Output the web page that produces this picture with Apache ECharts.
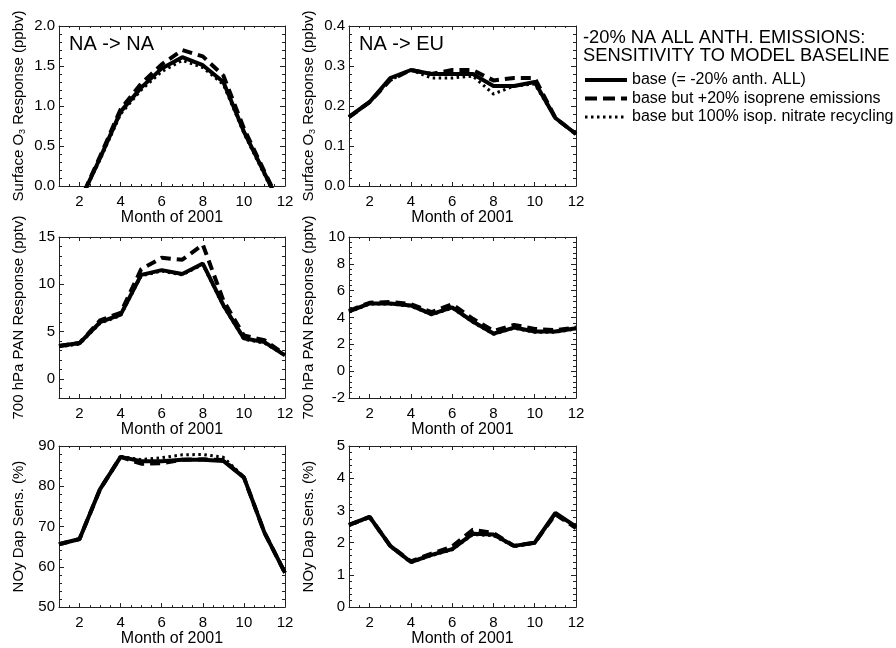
<!DOCTYPE html>
<html>
<head>
<meta charset="utf-8">
<script src="https://cdn.jsdelivr.net/npm/echarts@6/dist/echarts.min.js"></script>
<style>
html,body{margin:0;padding:0;background:#fff;}
#chart{width:896px;height:648px;}
</style>
</head>
<body>
<div id="chart"></div>
<script>
// ---- Data ----
var months = [1, 2, 3, 4, 5, 6, 7, 8, 9, 10, 11, 12];
var seriesNames = ['base (= -20% anth. ALL)', 'base but +20% isoprene emissions', 'base but 100% isop. nitrate recycling'];
var panelTitles = ['NA -> NA', 'NA -> EU'];
var xAxisName = 'Month of 2001';
var yAxisNames = ['Surface O{s|3} Response (ppbv)', '700 hPa PAN Response (pptv)', 'NOy Dap Sens. (%)'];
var legendTitle = '-20% NA ALL ANTH. EMISSIONS:\nSENSITIVITY TO MODEL BASELINE';

// Surface O3 response, NA -> NA (ppbv)
var o3NA_base = [-0.80, -0.20, 0.35, 0.93, 1.23, 1.47, 1.61, 1.51, 1.30, 0.68, 0.16, -0.36];
var o3NA_iso  = [-0.80, -0.20, 0.37, 0.96, 1.28, 1.52, 1.70, 1.62, 1.38, 0.72, 0.18, -0.35];
var o3NA_rec  = [-0.80, -0.20, 0.33, 0.90, 1.20, 1.43, 1.57, 1.48, 1.27, 0.66, 0.14, -0.37];
// Surface O3 response, NA -> EU (ppbv)
var o3EU_base = [0.173, 0.21, 0.27, 0.29, 0.28, 0.28, 0.28, 0.25, 0.25, 0.26, 0.17, 0.13];
var o3EU_iso  = [0.172, 0.21, 0.265, 0.29, 0.28, 0.29, 0.29, 0.264, 0.27, 0.27, 0.17, 0.13];
var o3EU_rec  = [0.172, 0.21, 0.265, 0.29, 0.27, 0.27, 0.275, 0.23, 0.25, 0.255, 0.17, 0.13];
// 700 hPa PAN response, NA (pptv)
var panNA_base = [3.5, 3.8, 6.0, 6.8, 11.0, 11.5, 11.1, 12.2, 7.8, 4.3, 3.9, 2.5];
var panNA_iso  = [3.5, 3.8, 6.2, 7.0, 11.6, 12.8, 12.6, 14.2, 8.3, 4.6, 4.1, 2.6];
var panNA_rec  = [3.4, 3.7, 5.9, 6.7, 10.9, 11.4, 11.0, 12.1, 7.7, 4.2, 3.8, 2.5];
// 700 hPa PAN response, EU (pptv)
var panEU_base = [4.45, 5.05, 5.05, 4.9, 4.25, 4.75, 3.7, 2.8, 3.25, 2.95, 2.95, 3.2];
var panEU_iso  = [4.5, 5.1, 5.15, 5.0, 4.4, 5.0, 3.9, 3.0, 3.45, 3.15, 3.05, 3.25];
var panEU_rec  = [4.4, 5.0, 5.0, 4.85, 4.2, 4.7, 3.65, 2.75, 3.2, 2.9, 2.9, 3.15];
// NOy deposition sensitivity, NA (%)
var noyNA_base = [65.6, 66.9, 79.3, 87.3, 86.2, 86.2, 86.6, 86.6, 86.3, 82.2, 68.5, 58.5];
var noyNA_iso  = [65.6, 66.9, 79.3, 87.3, 85.6, 85.7, 86.6, 86.7, 86.5, 82.2, 68.5, 58.5];
var noyNA_rec  = [65.6, 66.9, 79.3, 87.4, 86.6, 87.1, 87.8, 87.9, 87.2, 82.3, 68.6, 58.6];
// NOy deposition sensitivity, EU (%)
var noyEU_base = [2.55, 2.8, 1.9, 1.4, 1.62, 1.8, 2.28, 2.25, 1.9, 2.0, 2.92, 2.5];
var noyEU_iso  = [2.55, 2.8, 1.9, 1.42, 1.66, 1.88, 2.4, 2.3, 1.9, 2.0, 2.88, 2.45];
var noyEU_rec  = [2.53, 2.78, 1.88, 1.38, 1.6, 1.78, 2.25, 2.22, 1.88, 1.98, 2.9, 2.48];

// y-axis ranges per panel: [min, max, interval or null, splitNumber]
var yRanges = [
  [0, 2, 0.5, null],
  [0, 0.4, 0.1, null],
  [-2, 15, null, 3],
  [-2, 10, 2, null],
  [50, 90, 10, null],
  [0, 5, 1, null]
];
var panelData = [
  [o3NA_base, o3NA_iso, o3NA_rec],
  [o3EU_base, o3EU_iso, o3EU_rec],
  [panNA_base, panNA_iso, panNA_rec],
  [panEU_base, panEU_iso, panEU_rec],
  [noyNA_base, noyNA_iso, noyNA_rec],
  [noyEU_base, noyEU_iso, noyEU_rec]
];

// ---- Layout / style ----
var FONT = 'Liberation Sans, Arial, Helvetica, sans-serif';
var gridBoxes = [
  {left: 59, top: 26, width: 226, height: 160},
  {left: 349, top: 26, width: 227, height: 160},
  {left: 59, top: 237, width: 226, height: 161},
  {left: 349, top: 237, width: 227, height: 161},
  {left: 59, top: 446, width: 226, height: 164},
  {left: 349, top: 446, width: 227, height: 164}
];
var lineStyles = [
  {color: '#000', width: 4, type: 'solid'},
  {color: '#000', width: 4, type: [10, 6]},
  {color: '#000', width: 3, type: [2.5, 3.5]}
];

var axisLineStyle = {show: true, onZero: false, lineStyle: {color: '#222', width: 1}};

var grids = [], xAxes = [], yAxes = [], series = [];
gridBoxes.forEach(function (g, i) {
  grids.push({left: g.left, top: g.top, width: g.width, height: g.height, containLabel: false});
  var xBase = {
    gridIndex: i, type: 'value', min: 1, max: 12, splitNumber: 6,
    axisLine: axisLineStyle,
    axisTick: {show: true, inside: true, length: 4, lineStyle: {color: '#222'}},
    minorTick: {show: true, splitNumber: 4, length: 2, lineStyle: {color: '#222'}},
    splitLine: {show: false}, minorSplitLine: {show: false}
  };
  xAxes.push(Object.assign({}, xBase, {
    position: 'bottom',
    axisLabel: {show: true, showMinLabel: false, margin: 8, fontSize: 15, color: '#000', fontFamily: FONT},
    name: xAxisName, nameLocation: 'middle', nameGap: 23,
    nameTextStyle: {fontSize: 16, color: '#000', fontFamily: FONT}
  }));
  xAxes.push(Object.assign({}, xBase, {position: 'top', axisLabel: {show: false}}));

  var r = yRanges[i];
  var yBase = {
    gridIndex: i, type: 'value', min: r[0], max: r[1],
    axisLine: axisLineStyle,
    axisTick: {show: true, inside: true, length: 5, lineStyle: {color: '#222'}},
    minorTick: {show: true, splitNumber: 5, length: 3, lineStyle: {color: '#222'}},
    splitLine: {show: false}, minorSplitLine: {show: false}
  };
  if (r[2] !== null) yBase.interval = r[2]; else yBase.splitNumber = r[3];
  var dec = (r[2] !== null && r[2] < 1) ? 1 : 0;
  yAxes.push(Object.assign({}, yBase, {
    position: 'left',
    axisLabel: {
      show: true, margin: 4, fontSize: 15, color: '#000', fontFamily: FONT,
      showMinLabel: r[2] !== null,
      formatter: function (v) { return dec ? v.toFixed(1) : String(Math.round(v)); }
    },
    name: yAxisNames[Math.floor(i / 2)], nameLocation: 'middle', nameGap: 32, nameRotate: 90,
    nameTextStyle: {
      fontSize: 15, color: '#000', fontFamily: FONT, lineHeight: 17,
      rich: {s: {fontSize: 9, fontFamily: FONT, color: '#000', verticalAlign: 'bottom', lineHeight: 9}}
    }
  }));
  yAxes.push(Object.assign({}, yBase, {position: 'right', axisLabel: {show: false}}));

  var order = [2, 1, 0];
  order.forEach(function (k) {
    series.push({
      type: 'line', name: seriesNames[k],
      xAxisIndex: 2 * i, yAxisIndex: 2 * i,
      data: months.map(function (m, j) { return [m, panelData[i][k][j]]; }),
      showSymbol: false, symbol: 'none', clip: true,
      itemStyle: {color: '#000'},
      lineStyle: lineStyles[k], z: 3 + (2 - k),
      emphasis: {disabled: true}, silent: true, animation: false
    });
  });
});

var titleFont = {fontWeight: 'normal', color: '#000', fontFamily: FONT};
var titles = [
  {text: panelTitles[0], left: 69, top: 33, padding: 0, textStyle: Object.assign({fontSize: 20, lineHeight: 22}, titleFont)},
  {text: panelTitles[1], left: 359, top: 33, padding: 0, textStyle: Object.assign({fontSize: 20, lineHeight: 22}, titleFont)},
  {text: legendTitle, left: 583, top: 29, padding: 0, textStyle: Object.assign({fontSize: 18.3, lineHeight: 18}, titleFont)}
];

var hiddenSymbol = {color: 'rgba(0,0,0,0)', borderColor: 'rgba(0,0,0,0)', borderWidth: 0, opacity: 0};

var option = {
  backgroundColor: '#fff',
  animation: false,
  title: titles,
  legend: {
    orient: 'vertical', left: 583, top: 72, padding: 0,
    itemWidth: 42, itemHeight: 16, itemGap: 2.5,
    selectedMode: false,
    itemStyle: hiddenSymbol,
    textStyle: {fontSize: 16, color: '#000', fontFamily: FONT, lineHeight: 16},
    data: seriesNames.map(function (n, k) {
      return {
        name: n,
        itemStyle: hiddenSymbol,
        lineStyle: {color: '#000', width: lineStyles[k].width, type: k === 1 ? [12, 6] : lineStyles[k].type, opacity: 1}
      };
    })
  },
  grid: grids,
  xAxis: xAxes,
  yAxis: yAxes,
  series: series
};

var chart = echarts.init(document.getElementById('chart'), null, {renderer: 'canvas'});
chart.setOption(option);
</script>
</body>
</html>
